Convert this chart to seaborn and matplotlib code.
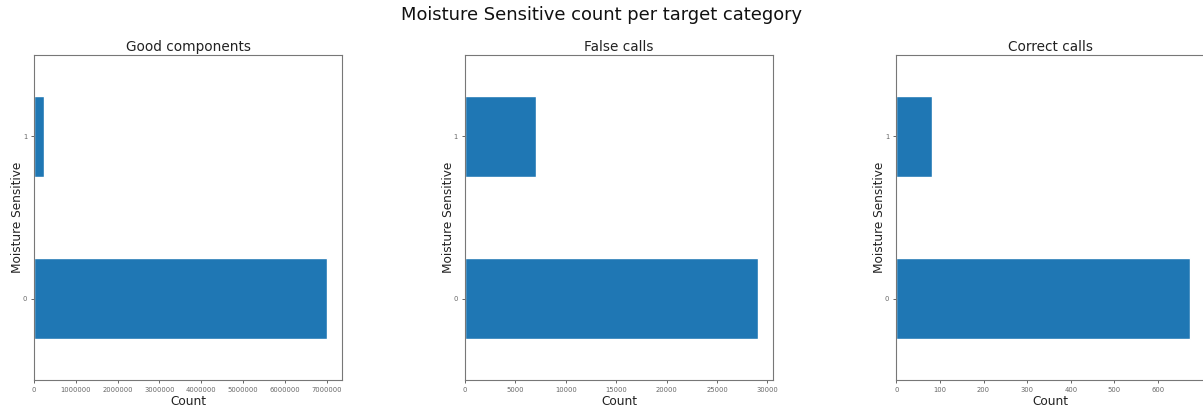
import matplotlib
matplotlib.use("Agg")
import matplotlib.pyplot as plt
import seaborn as sns
import pandas as pd

# Counts of the "Moisture Sensitive" flag within each target category
categories = ["Good components", "False calls", "Correct calls"]
flag_levels = [1, 0]
good_counts = [240000, 7020000]
false_counts = [7010, 29100]
correct_counts = [83, 672]
x_ticks = [
    [0, 1000000, 2000000, 3000000, 4000000, 5000000, 6000000, 7000000],
    [0, 5000, 10000, 15000, 20000, 25000, 30000],
    [0, 100, 200, 300, 400, 500, 600],
]

sns.set_style("white")
plt.rcParams["font.family"] = ["DejaVu Sans"]

fig = plt.figure(figsize=(12.03, 4.15), dpi=100)
lefts = [0.0283, 0.3865, 0.745]
width, bottom, height = 0.256, 0.0843, 0.783

for left, title, counts, ticks in zip(lefts, categories,
                                      [good_counts, false_counts, correct_counts],
                                      x_ticks):
    ax = fig.add_axes([left, bottom, width, height])
    df = pd.DataFrame({"Moisture Sensitive": [str(v) for v in flag_levels],
                       "Count": counts})
    sns.barplot(data=df, y="Moisture Sensitive", x="Count", orient="h",
                order=[str(v) for v in flag_levels], color="#1f77b4",
                saturation=1, width=0.5, ax=ax)
    ax.set_ylim(1.5, -0.5)
    ax.set_xlim(0, max(counts) * 1.05)
    ax.set_xticks(ticks)
    ax.set_xticklabels([str(t) for t in ticks])
    ax.set_title(title, fontsize=9.8, color="#222222", pad=3)
    ax.set_xlabel("Count", fontsize=8.7, color="#222222", labelpad=1.5)
    ax.set_ylabel("Moisture Sensitive", fontsize=8.7, color="#222222",
                  labelpad=-1)
    ax.tick_params(axis="both", labelsize=4.9, colors="#666666", length=2.5,
                   width=0.7, bottom=True, left=True, pad=2.5)
    for s in ax.spines.values():
        s.set_color("#777777")
        s.set_linewidth(0.8)

fig.suptitle("Moisture Sensitive count per target category", fontsize=12.9,
             y=0.985, color="#111111")
fig.savefig("out.png", dpi=100)
